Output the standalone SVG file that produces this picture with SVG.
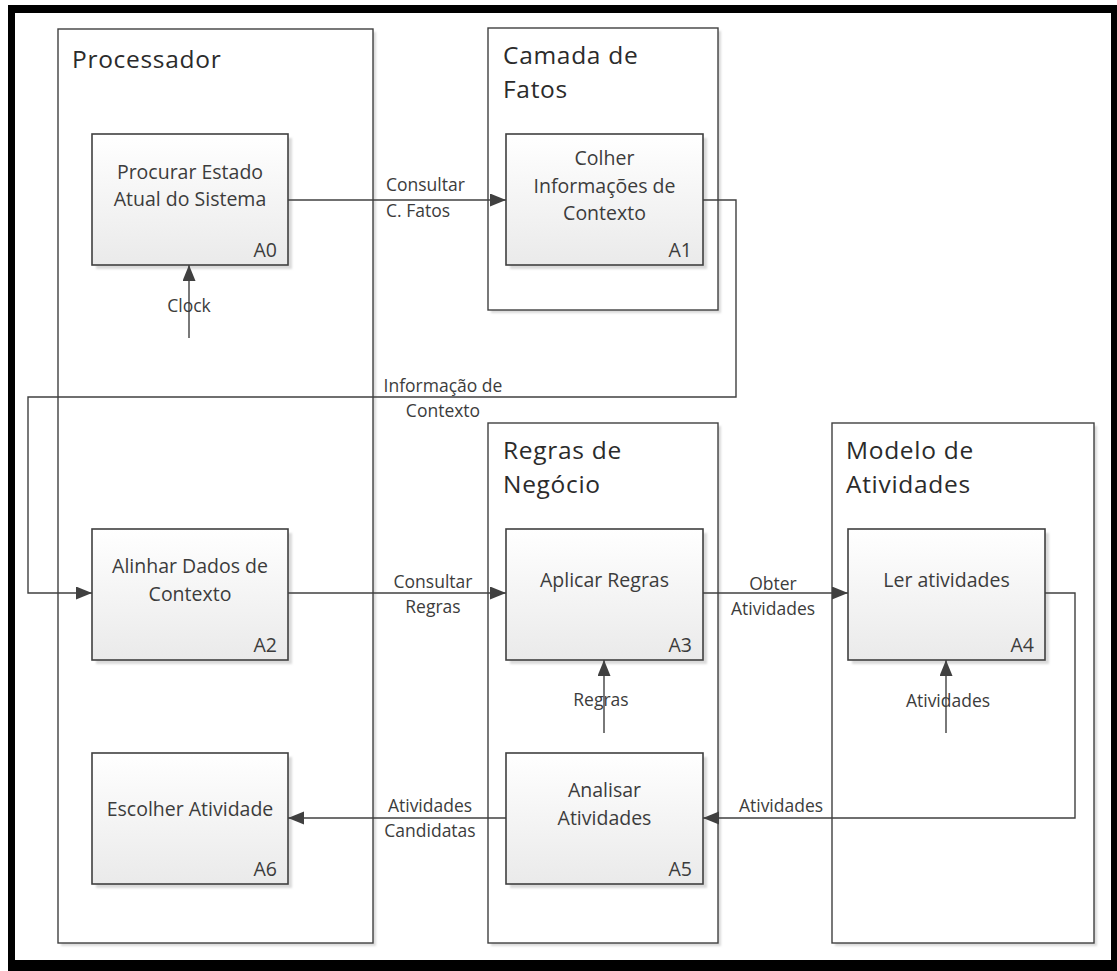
<svg xmlns="http://www.w3.org/2000/svg" width="1117" height="971" viewBox="0 0 1117 971">
  <defs>
    <linearGradient id="boxFill" x1="0" y1="0" x2="0" y2="1">
      <stop offset="0" stop-color="#ffffff"/>
      <stop offset="1" stop-color="#eaeaea"/>
    </linearGradient>
    <filter id="soft" x="-10%" y="-10%" width="120%" height="120%">
      <feGaussianBlur stdDeviation="1"/>
    </filter>
    <marker id="arrow" markerUnits="userSpaceOnUse" markerWidth="16" markerHeight="14" refX="16" refY="6.5" orient="auto">
      <path d="M0,0 L16,6.5 L0,13 z" fill="#404040"/>
    </marker>
  </defs>
  <style>
    .frame { fill: #ffffff; stroke: #404040; stroke-width: 1.4; }
    .shadow { fill: #dadada; filter: url(#soft); }
    .box { fill: url(#boxFill); stroke: #404040; stroke-width: 1.6; }
    .title { font-family: "Open Sans", "DejaVu Sans", sans-serif; font-size: 24.5px; letter-spacing: 0.7px; fill: #2b2b2b; }
    .btext { font-family: "Open Sans", "DejaVu Sans", sans-serif; font-size: 19.5px; fill: #3c3c3c; text-anchor: middle; }
    .bid { font-family: "Open Sans", "DejaVu Sans", sans-serif; font-size: 19.5px; fill: #3c3c3c; text-anchor: end; }
    .lbl { font-family: "Open Sans", "DejaVu Sans", sans-serif; font-size: 17.5px; fill: #3c3c3c; text-anchor: middle; }
    .lbl-start { font-family: "Open Sans", "DejaVu Sans", sans-serif; font-size: 17.5px; fill: #3c3c3c; }
    .conn { fill: none; stroke: #404040; stroke-width: 1.4; }
  </style>

  <!-- page frame -->
  <rect x="8" y="5" width="1109" height="966" fill="#000000"/>
  <rect x="15" y="13" width="1096" height="947" fill="#ffffff"/>

  <!-- swimlane containers -->
  <g id="processador">
    <rect class="shadow" x="61" y="32" width="315" height="914"/>
    <rect class="frame" x="58" y="29" width="315" height="914"/>
    <text class="title" x="72" y="68">Processador</text>
  </g>
  <g id="camada-de-fatos">
    <rect class="shadow" x="491" y="31" width="230" height="282"/>
    <rect class="frame" x="488" y="28" width="230" height="282"/>
    <text class="title" x="503" y="64">Camada de</text>
    <text class="title" x="503" y="98">Fatos</text>
  </g>
  <g id="regras-de-negocio">
    <rect class="shadow" x="491" y="426" width="230" height="520"/>
    <rect class="frame" x="488" y="423" width="230" height="520"/>
    <text class="title" x="503" y="459">Regras de</text>
    <text class="title" x="503" y="493">Negócio</text>
  </g>
  <g id="modelo-de-atividades">
    <rect class="shadow" x="835" y="426" width="262" height="520"/>
    <rect class="frame" x="832" y="423" width="262" height="520"/>
    <text class="title" x="846" y="459">Modelo de</text>
    <text class="title" x="846" y="493">Atividades</text>
  </g>

  <!-- activity boxes -->
  <g id="a0">
    <rect class="shadow" x="96" y="138" width="196" height="131"/>
    <rect class="box" x="92" y="134" width="196" height="131"/>
    <text class="btext" x="190" y="179">Procurar Estado</text>
    <text class="btext" x="190" y="206">Atual do Sistema</text>
    <text class="bid" x="277" y="257">A0</text>
  </g>
  <g id="a1">
    <rect class="shadow" x="510" y="138" width="197" height="131"/>
    <rect class="box" x="506" y="134" width="197" height="131"/>
    <text class="btext" x="604.5" y="165">Colher</text>
    <text class="btext" x="604.5" y="193">Informações de</text>
    <text class="btext" x="604.5" y="220">Contexto</text>
    <text class="bid" x="692" y="257">A1</text>
  </g>
  <g id="a2">
    <rect class="shadow" x="96" y="533" width="196" height="131"/>
    <rect class="box" x="92" y="529" width="196" height="131"/>
    <text class="btext" x="190" y="573">Alinhar Dados de</text>
    <text class="btext" x="190" y="601">Contexto</text>
    <text class="bid" x="277" y="652">A2</text>
  </g>
  <g id="a3">
    <rect class="shadow" x="510" y="533" width="197" height="131"/>
    <rect class="box" x="506" y="529" width="197" height="131"/>
    <text class="btext" x="604.5" y="587">Aplicar Regras</text>
    <text class="bid" x="692" y="652">A3</text>
  </g>
  <g id="a4">
    <rect class="shadow" x="852" y="533" width="197" height="131"/>
    <rect class="box" x="848" y="529" width="197" height="131"/>
    <text class="btext" x="946.5" y="587">Ler atividades</text>
    <text class="bid" x="1034" y="652">A4</text>
  </g>
  <g id="a5">
    <rect class="shadow" x="510" y="757" width="197" height="131"/>
    <rect class="box" x="506" y="753" width="197" height="131"/>
    <text class="btext" x="604.5" y="797">Analisar</text>
    <text class="btext" x="604.5" y="825">Atividades</text>
    <text class="bid" x="692" y="876">A5</text>
  </g>
  <g id="a6">
    <rect class="shadow" x="96" y="757" width="196" height="131"/>
    <rect class="box" x="92" y="753" width="196" height="131"/>
    <text class="btext" x="190" y="816">Escolher Atividade</text>
    <text class="bid" x="277" y="876">A6</text>
  </g>

  <!-- connectors and their labels -->
  <g id="connectors">
    <path class="conn" d="M288,200 H506" marker-end="url(#arrow)"/>
    <path class="conn" d="M189,338 V265" marker-end="url(#arrow)"/>
    <path class="conn" d="M703,200 H736 V397 H28 V593 H92" marker-end="url(#arrow)"/>
    <path class="conn" d="M288,593 H506" marker-end="url(#arrow)"/>
    <path class="conn" d="M703,593 H848" marker-end="url(#arrow)"/>
    <path class="conn" d="M604,733 V660" marker-end="url(#arrow)"/>
    <path class="conn" d="M946,733 V660" marker-end="url(#arrow)"/>
    <path class="conn" d="M1045,593 H1075 V818 H703" marker-end="url(#arrow)"/>
    <path class="conn" d="M506,818 H288" marker-end="url(#arrow)"/>

    <text class="lbl-start" x="386" y="191">Consultar</text>
    <text class="lbl-start" x="386" y="217">C. Fatos</text>
    <text class="lbl" x="189" y="312">Clock</text>
    <text class="lbl" x="443" y="392">Informação de</text>
    <text class="lbl" x="443" y="417">Contexto</text>
    <text class="lbl" x="433" y="588">Consultar</text>
    <text class="lbl" x="433" y="613">Regras</text>
    <text class="lbl" x="773" y="590">Obter</text>
    <text class="lbl" x="773" y="615">Atividades</text>
    <text class="lbl" x="601" y="706">Regras</text>
    <text class="lbl" x="948" y="707">Atividades</text>
    <text class="lbl" x="430" y="812">Atividades</text>
    <text class="lbl" x="430" y="837">Candidatas</text>
    <text class="lbl" x="781" y="812">Atividades</text>
  </g>
</svg>
